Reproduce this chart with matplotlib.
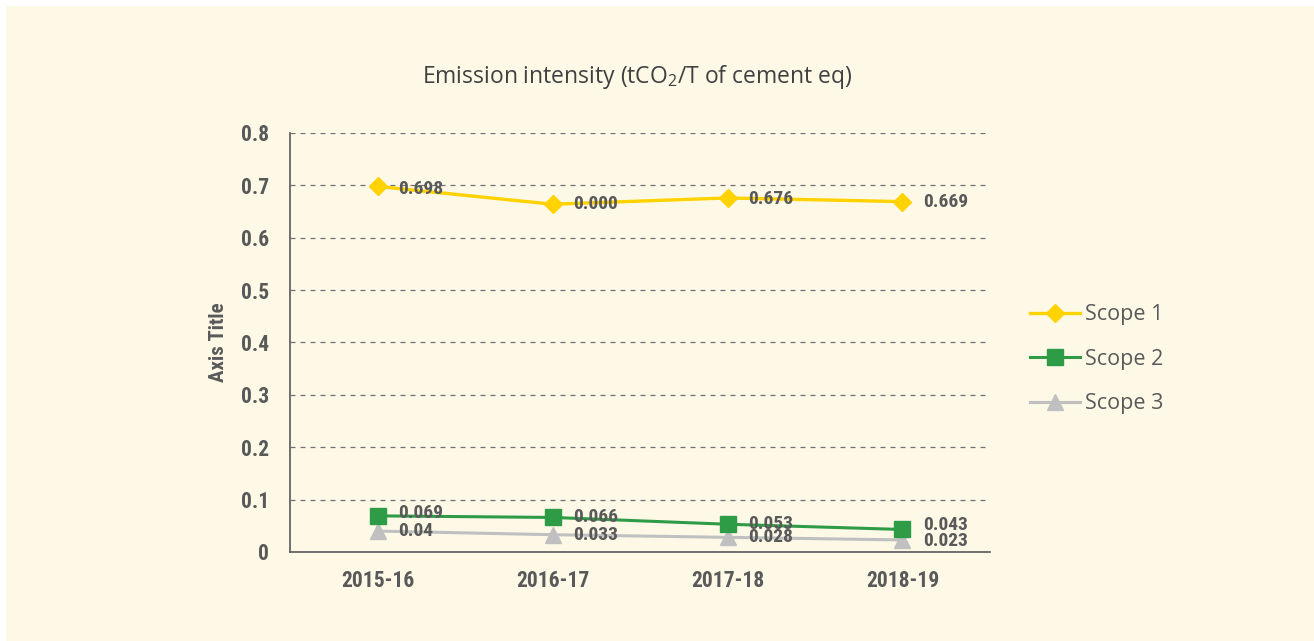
import matplotlib
matplotlib.use('Agg')
import matplotlib.pyplot as plt
from matplotlib.patches import Rectangle

# data
years = ['2015-16', '2016-17', '2017-18', '2018-19']
scope1 = [0.698, 0.664, 0.676, 0.669]
scope2 = [0.069, 0.066, 0.053, 0.043]
scope3 = [0.040, 0.033, 0.028, 0.023]
scope1_labels = ['0.698', '0.000', '0.676', '0.669']
scope2_labels = ['0.069', '0.066', '0.053', '0.043']
scope3_labels = ['0.04', '0.033', '0.028', '0.023']
y_ticks = [0, 0.1, 0.2, 0.3, 0.4, 0.5, 0.6, 0.7, 0.8]
y_tick_labels = ['0', '0.1', '0.2', '0.3', '0.4', '0.5', '0.6', '0.7', '0.8']

W, H = 1314, 641
bg = '#fef9e7'
txt = '#595959'
narrow = ['Liberation Sans Narrow', 'Roboto Condensed', 'DejaVu Sans Condensed', 'Roboto']
plain = ['Open Sans', 'DejaVu Sans']
plt.rcParams['mathtext.default'] = 'regular'

fig = plt.figure(figsize=(W / 100, H / 100), dpi=100, facecolor='white')
# cream card with a thin white margin on top / left
fig.patches.append(Rectangle((6 / W, 0), 1 - 6 / W, 1 - 6 / H, transform=fig.transFigure,
                             facecolor=bg, edgecolor='none', zorder=-10))

ax = fig.add_axes([290 / W, (H - 552) / H, 700 / W, (552 - 133) / H])
ax.set_facecolor('none')

x = list(range(len(years)))
ax.plot(x, scope1, color='#ffd200', lw=2.4, marker='D', ms=9, mec='#ffd200', label='Scope 1', zorder=3)
ax.plot(x, scope2, color='#2e9b47', lw=2.2, marker='s', ms=11, mec='#2e9b47', label='Scope 2', zorder=3)
ax.plot(x, scope3, color='#c0c0c0', lw=2.2, marker='^', ms=12, mec='#c0c0c0', label='Scope 3', zorder=2)

# data labels
offs1 = [-2, 0, -1, 0]
offs2 = [2, 0, 0, 3]
offs3 = [0, 0, 0, -1]
for series, labels, offs in [(scope1, scope1_labels, offs1), (scope2, scope2_labels, offs2),
                             (scope3, scope3_labels, offs3)]:
    for xi, yi, lab, dy in zip(x, series, labels, offs):
        ax.annotate(lab, (xi, yi), xytext=(15, dy), textcoords='offset points',
                    ha='left', va='center', fontsize=14, fontweight='bold', color=txt,
                    family=narrow, fontstretch='condensed', zorder=4)

ax.set_xlim(-0.5, 3.5)
ax.set_ylim(0, 0.8)
ax.set_yticks(y_ticks)
ax.set_yticklabels(y_tick_labels)
ax.set_xticks(x)
ax.set_xticklabels(years)
ax.grid(axis='y', linestyle=(0, (4, 4)), color='#707070', lw=0.9)
ax.set_axisbelow(True)
for s in ['top', 'right']:
    ax.spines[s].set_visible(False)
for s in ['left', 'bottom']:
    ax.spines[s].set_color('#595959')
    ax.spines[s].set_linewidth(1.2)
ax.tick_params(length=0, pad=13, labelcolor=txt)
ax.tick_params(axis='y', pad=15)
for lab in ax.get_xticklabels() + ax.get_yticklabels():
    lab.set_family(narrow)
    lab.set_fontstretch('condensed')
    lab.set_fontweight('bold')
    lab.set_fontsize(15.5)

ax.set_ylabel('Axis Title', fontsize=15, fontweight='bold', color=txt, family=narrow,
              fontstretch='condensed', labelpad=9)

fig.text(637 / W, 1 - 77 / H, 'Emission intensity (tCO$_2$/T of cement eq)', ha='center', va='center',
         fontsize=16.5, color='#404040', family=plain)

leg = ax.legend(loc='center left', bbox_to_anchor=((1030 - 290) / 700, 0.46), frameon=False,
                handlelength=2.3, labelspacing=1.1, handletextpad=0.25, borderpad=0, borderaxespad=0,
                prop={'family': plain, 'size': 15.5})
for t in leg.get_texts():
    t.set_color(txt)

fig.savefig('out.png', dpi=100, facecolor=fig.get_facecolor())
